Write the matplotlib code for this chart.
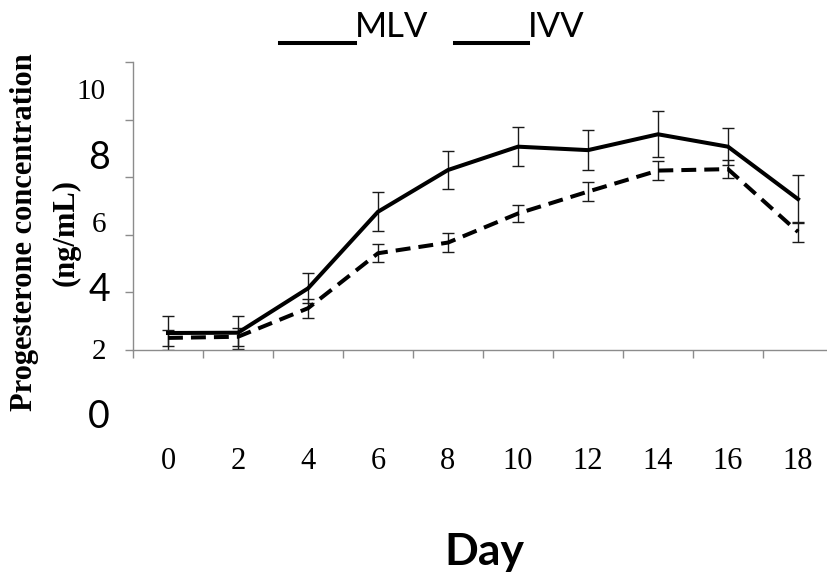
import numpy as np
import matplotlib
matplotlib.use("Agg")
import matplotlib.pyplot as plt
from matplotlib.lines import Line2D

W, H = 828, 576
DPI = 100

# ---- data ----
days = [0, 2, 4, 6, 8, 10, 12, 14, 16, 18]
mlv = [2.59, 2.60, 4.14, 6.80, 8.25, 9.06, 8.94, 9.49, 9.06, 7.24]
mlv_err = [0.60, 0.58, 0.52, 0.67, 0.65, 0.67, 0.70, 0.80, 0.65, 0.84]
ivv = [2.42, 2.46, 3.45, 5.36, 5.73, 6.74, 7.50, 8.23, 8.28, 6.10]
ivv_err = [0.28, 0.32, 0.33, 0.32, 0.32, 0.31, 0.32, 0.33, 0.32, 0.36]

# y tick labels as they appear (pasted, not aligned with ticks)
ylab_text = ["10", "8", "6", "4", "2", "0"]
ylab_serif = [True, False, True, False, True, False]
ylab_ypx = [92, 158, 225, 290, 352, 417]

SERIF = "Liberation Serif"
SANS = "Lato"
AXIS_GREY = "#8c8c8c"


def px(x, y):
    """pixel coords (origin top-left) -> figure fraction"""
    return x / W, 1 - y / H


fig = plt.figure(figsize=(W / DPI, H / DPI), dpi=DPI, facecolor="white")
# plot area: x 133..833 px, y 62..350 px
ax = fig.add_axes([133 / W, 1 - 350 / H, 700 / W, 288 / H])

x = np.arange(len(days))
ax.errorbar(x, mlv, yerr=mlv_err, fmt="none", ecolor="#1a1a1a",
            elinewidth=1.0, capsize=4.3, capthick=1.0, zorder=2)
ax.errorbar(x, ivv, yerr=ivv_err, fmt="none", ecolor="#1a1a1a",
            elinewidth=1.0, capsize=4.3, capthick=1.0, zorder=2)
ax.plot(x, mlv, color="black", lw=2.9, solid_joinstyle="miter", zorder=3)
ax.plot(x, ivv, color="black", lw=2.9, linestyle=(0, (3.7, 2.0)), zorder=3)

ax.set_xlim(-0.5, len(days) - 0.5)
ax.set_ylim(2, 12)

# category axis: ticks between categories, labels at categories
ax.set_xticks(np.arange(-0.5, len(days), 1.0))
ax.set_xticklabels([])
ax.set_xticks(x, minor=True)
ax.set_xticklabels([str(d) for d in days], minor=True,
                   fontfamily=SERIF, fontsize=22)
ax.tick_params(axis="x", which="minor", length=0, pad=70)
ax.tick_params(axis="x", which="major", length=5.8, width=1.0,
               color=AXIS_GREY, direction="out")

ax.set_yticks(np.arange(2, 13, 2))
ax.set_yticklabels([])
ax.tick_params(axis="y", length=5.8, width=1.0, color=AXIS_GREY,
               direction="out")

for side in ("top", "right"):
    ax.spines[side].set_visible(False)
for side in ("left", "bottom"):
    ax.spines[side].set_color(AXIS_GREY)
    ax.spines[side].set_linewidth(1.0)

# ---- y tick labels (mixed fonts, offset from ticks) ----
for txt, serif, ypx in zip(ylab_text, ylab_serif, ylab_ypx):
    if serif:
        fig.text(*px(106, ypx), txt, ha="right", va="center",
                 fontfamily=SERIF, fontsize=21)
    else:
        fig.text(*px(110, ypx), txt, ha="right", va="center",
                 fontfamily=SANS, fontsize=27)

# ---- y axis title ----
fig.text(*px(25, 232), "Progesterone concentration", rotation=90,
         ha="center", va="center", fontfamily=SERIF, fontweight="bold",
         fontsize=22)
fig.text(*px(66, 233), "(ng/mL)", rotation=90, ha="center", va="center",
         fontfamily=SERIF, fontweight="bold", fontsize=22)

# ---- x axis title ----
fig.text(*px(484, 552), "Day", ha="center", va="center",
         fontfamily=SANS, fontweight="bold", fontsize=32)

# ---- legend drawn as underscore lines + names ----
for (x0, x1), name in [((280, 355), "MLV"), ((455, 528), "IVV")]:
    fig.add_artist(Line2D([x0 / W, x1 / W], [1 - 43 / H] * 2,
                          color="black", lw=2.9))
    fig.text(*px(x1, 37), name, ha="left", va="baseline",
             fontfamily=SANS, fontsize=25)

fig.savefig("out.png", dpi=DPI, facecolor="white")
